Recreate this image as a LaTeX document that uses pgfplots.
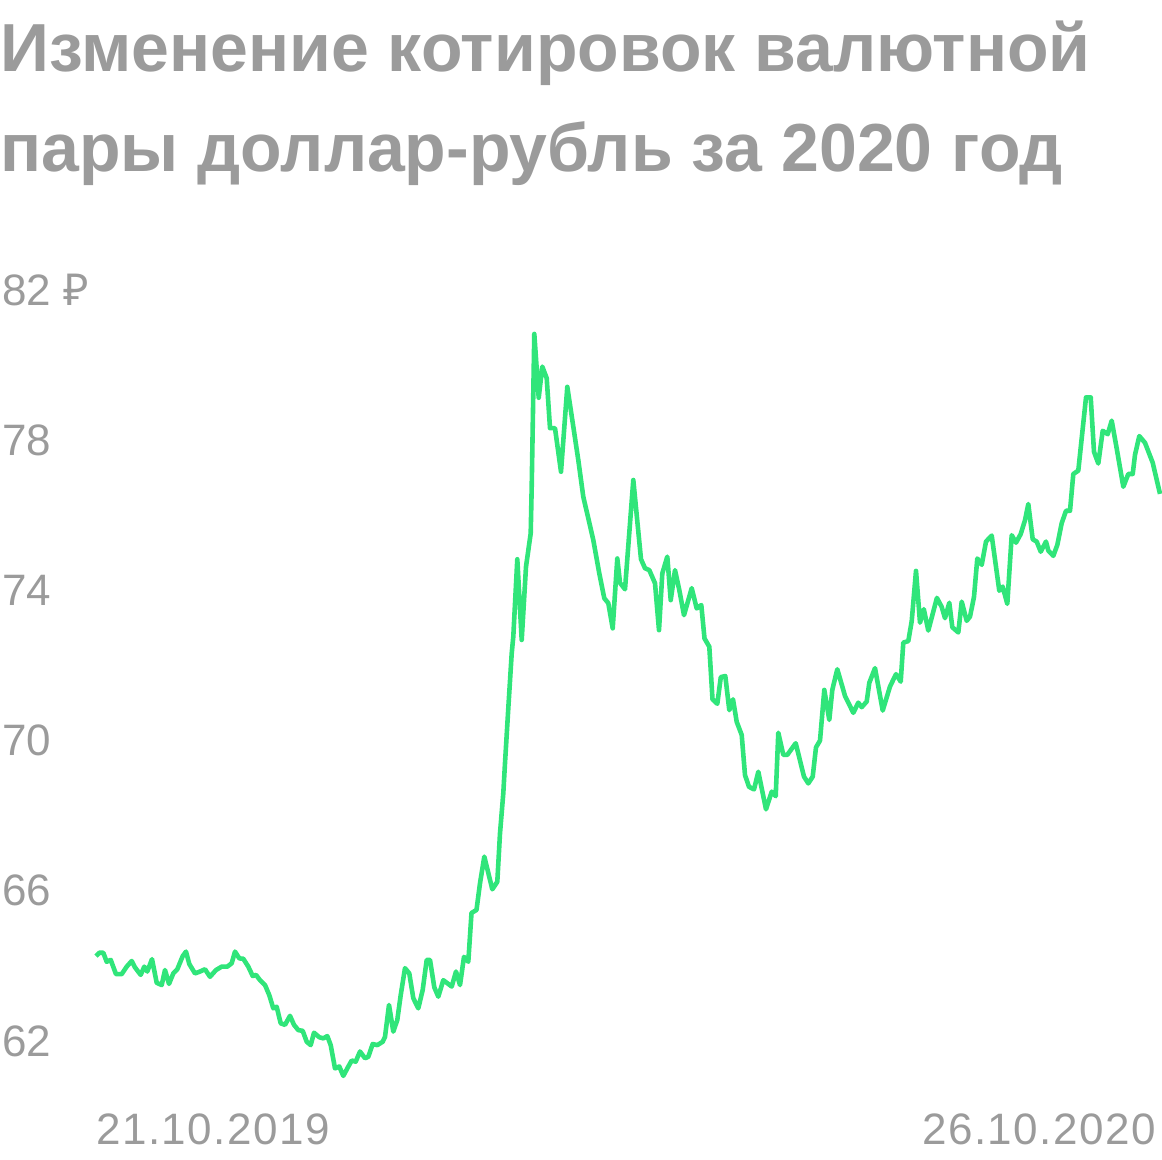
\documentclass[border=0pt]{standalone}
\usepackage{pgfplots}
\pgfplotsset{compat=1.18}
\usepackage{fontspec}
\setmainfont{Liberation Sans}
\newfontfamily\rubfont{Noto Sans}
\newfontfamily\datefont[LetterSpace=3.3]{Liberation Sans}
\definecolor{txtgray}{HTML}{9B9B9B}
\definecolor{usdgreen}{HTML}{30E57A}

% USD/RUB, x = horizontal position (21.10.2019 ... 26.10.2020), y = rate
\pgfplotstableread{
x y
96 64.26
99.3 64.35
103.3 64.35
106.7 64.11
110.7 64.16
116 63.78
121.7 63.78
126.7 63.98
131.7 64.13
135 63.96
140.7 63.76
144.3 63.98
147.3 63.85
152 64.18
156.7 63.55
161.7 63.49
165 63.89
169 63.52
173.3 63.80
177.3 63.91
182.7 64.26
186 64.38
189.3 64.05
195 63.80
200 63.85
205 63.91
210 63.71
216 63.89
221.7 63.98
227.3 63.98
231.7 64.07
235 64.38
239.3 64.20
243.3 64.19
248.3 63.98
252.7 63.73
256 63.76
260 63.62
265 63.49
269.3 63.22
273.3 62.87
276.7 62.91
280.7 62.47
285 62.43
290 62.67
294 62.43
298.3 62.29
302.7 62.27
306.7 61.98
310.7 61.89
314 62.22
319.3 62.10
323.3 62.07
327.3 62.13
330.7 61.89
335 61.27
339.3 61.32
343.3 61.07
347.3 61.27
351.7 61.48
355.7 61.45
360 61.72
365 61.54
368.3 61.58
372.7 61.92
377.3 61.89
382.7 61.98
385 62.11
389 62.96
393.3 62.25
397.3 62.56
400.7 63.22
405 63.94
409.3 63.80
413.3 63.14
418.3 62.87
422.7 63.36
426.7 64.16
430 64.16
434.3 63.43
438.3 63.18
443.3 63.62
451.7 63.45
456 63.85
460 63.49
464 64.24
468.3 64.11
471.5 65.41
476.5 65.49
480 66.20
484.3 66.91
492.3 66.04
497.3 66.24
500 67.53
503.3 68.60
505 69.40
508.5 70.95
511.7 72.32
513.3 72.77
517.3 74.83
521.7 72.68
526 74.63
530.7 75.52
531.7 76.76
534.3 80.83
538.7 79.13
542.3 79.96
546.7 79.65
550 78.32
555 78.32
561 77.16
567.3 79.42
573.3 78.36
578.3 77.47
583.3 76.49
588.3 75.92
593.3 75.34
599.3 74.45
604.3 73.79
608.3 73.66
612.7 72.99
617.3 74.85
620 74.20
625 74.03
633.3 76.94
641 74.83
645 74.59
649.3 74.54
655 74.19
659 72.94
662.3 74.45
667.3 74.90
670.7 73.74
675 74.54
679.3 74.01
684 73.34
691.7 74.06
696.7 73.52
701.3 73.61
704.5 72.72
709.3 72.50
712.5 71.10
717.3 70.98
720.8 71.69
725.3 71.72
729.3 70.81
733 71.10
736.7 70.50
741.7 70.15
745 69.08
749 68.77
754 68.70
758.3 69.17
766 68.17
771.7 68.64
775.7 68.52
778.3 70.21
783.3 69.62
787.3 69.62
795.7 69.93
804 69.04
808.3 68.86
812.7 69.04
816 69.82
820 70.00
824.3 71.35
829.3 70.55
832.3 71.35
837.3 71.90
845 71.19
853.3 70.74
858.3 71.01
861.7 70.89
866.7 71.04
869.3 71.54
875 71.93
882.7 70.80
890 71.44
896 71.77
900.7 71.57
903.3 72.61
908.3 72.65
911.7 73.18
916 74.52
920 73.14
923.8 73.50
928.3 72.93
936.9 73.80
941.7 73.56
945 73.26
949.3 73.67
952.3 73.02
958.3 72.88
961.7 73.70
966.7 73.19
970 73.30
974 73.83
977.3 74.85
981.7 74.68
986 75.30
991.7 75.46
999.3 73.99
1002.7 74.10
1007.3 73.64
1011.7 75.47
1016 75.27
1020.7 75.50
1025 75.87
1028.3 76.30
1032.7 75.36
1036.7 75.30
1040.7 75.03
1046 75.30
1048.3 75.06
1053.3 74.92
1057.3 75.21
1061.7 75.79
1066 76.12
1070 76.12
1073.3 77.10
1078.3 77.19
1081.7 78.05
1086 79.14
1090.7 79.14
1094 77.69
1098.3 77.38
1102.7 78.25
1107.7 78.16
1111.7 78.52
1116.7 77.78
1123.3 76.76
1128.3 77.10
1132.7 77.10
1135 77.61
1139.3 78.11
1145 77.93
1152.7 77.40
1160 76.57
}\usdrub

\begin{document}
\begin{tikzpicture}
\useasboundingbox (0,0) rectangle (581pt,580pt);
% title
\node[anchor=base west, inner sep=0pt, text=txtgray, font=\fontsize{34}{40}\selectfont\bfseries]
  at (0pt,544.2pt) {Изменение котировок валютной};
\node[anchor=base west, inner sep=0pt, text=txtgray, font=\fontsize{34}{40}\selectfont\bfseries]
  at (0pt,494.2pt) {пары доллар-рубль за 2020 год};

\begin{axis}[
  at={(48pt,59.5pt)}, anchor=south west,
  scale only axis,
  width=532pt, height=375.5pt,
  xmin=96, xmax=1160,
  ymin=62, ymax=82,
  clip=false,
  axis line style={draw=none},
  major tick style={draw=none},
  ytick={62,66,70,74,78,82},
  yticklabels={62,66,70,74,78,{82 {\rubfont ₽}}},
  yticklabel style={anchor=west, inner sep=0pt, xshift=-47pt,
    text=txtgray, font=\fontsize{22}{26}\selectfont},
  xtick={96},
  xticklabels={21.10.2019},
  extra x ticks={1160},
  extra x tick labels={26.10.2020},
  xticklabel style={anchor=north west, inner sep=0pt, yshift=-36pt,
    text=txtgray, font=\datefont\fontsize{22}{26}\selectfont},
  extra x tick style={xticklabel style={anchor=north east, xshift=-2pt}},
]
\addplot[usdgreen, line width=2.3pt, line join=round, no marks] table[x=x, y=y] {\usdrub};
\end{axis}
\end{tikzpicture}
\end{document}
